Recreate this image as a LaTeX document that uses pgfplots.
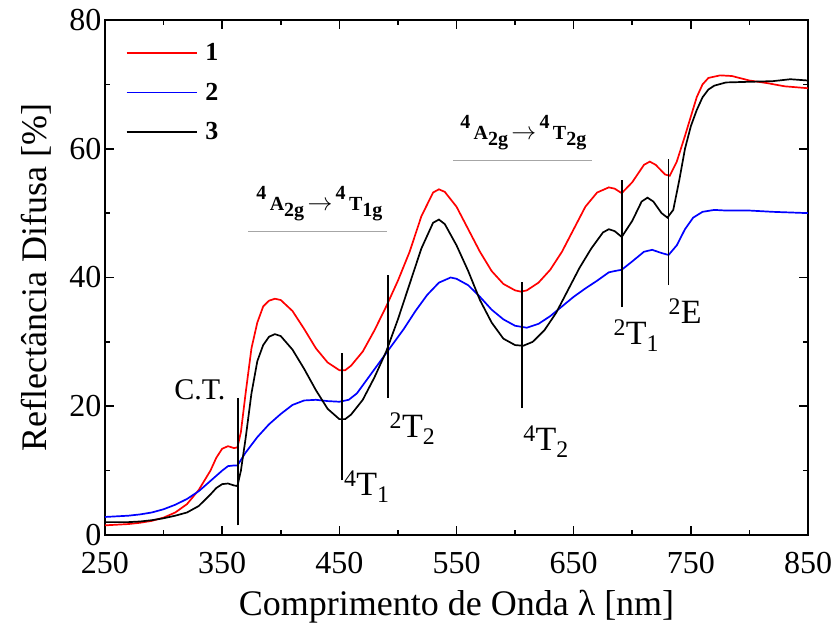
\documentclass[border=0pt]{standalone}
\usepackage{fontspec}
\setmainfont{Liberation Serif}
\usepackage{pgfplots}
\pgfplotsset{compat=1.18}

% annotation helpers
\newcommand{\lev}[3]{\textsuperscript{#1}#2\textsubscript{#3}}
\newcommand{\trans}[1]{\bfseries\fontsize{20}{20}\selectfont
  \raisebox{1.2ex}{4}\,A\raisebox{-0.7ex}{2g}\,{\fontsize{30}{30}\selectfont$\rightarrow$}\,\raisebox{1.2ex}{4}\,T\raisebox{-0.7ex}{#1}}

\begin{document}
\begin{tikzpicture}
\begin{axis}[
    scale only axis,
    width=703pt, height=515pt,
    xmin=250, xmax=850, ymin=0, ymax=80,
    xtick={250,350,...,850}, minor xtick={300,400,...,800},
    ytick={0,20,...,80}, minor ytick={10,30,50,70},
    major tick length=9pt, minor tick length=5pt,
    tick style={line width=1.6pt, black},
    axis line style={line width=2pt},
    /pgf/number format/assume math mode=true,
    ticklabel style={font=\fontsize{32}{32}\selectfont},
    xticklabel style={yshift=-14pt},
    xlabel={Comprimento de Onda λ [nm]},
    ylabel={Reflectância Difusa [\%]},
    label style={font=\fontsize{36}{36}\selectfont},
    xlabel style={at={(axis description cs:0.5,-0.1)}, anchor=north},
    ylabel style={at={(axis description cs:-0.072,0.5)}, anchor=south},
    legend cell align=left,
    legend style={at={(0.025,0.962)}, anchor=north west, draw=none, fill=none,
        font=\fontsize{26}{26}\selectfont\bfseries, row sep=16.6pt},
    legend image code/.code={\draw (0pt,0pt) -- (70pt,0pt);},
]
% amostra 1
\addplot[red, line width=1.7pt] coordinates {
 (250,1.5) (260,1.6) (270,1.7) (280,1.9) (290,2.2) (300,2.7) (310,3.5) (320,4.8)
 (330,7.0) (340,10.0) (345,12.0) (350,13.4) (355,13.8) (360,13.5) (363,13.6)
 (366,16) (370,22) (375,29) (380,33) (385,35.5) (390,36.4) (395,36.7) (400,36.5)
 (410,34.8) (420,32.0) (430,29.0) (440,26.8) (450,25.6) (455,25.6) (460,26.3)
 (470,28.5) (480,31.8) (490,35.5) (500,39.5) (510,44) (520,49.5) (530,53.2)
 (535,53.7) (540,53.3) (550,51) (560,47.5) (570,44) (580,41) (590,39) (600,38)
 (605,37.8) (610,38) (620,39.2) (630,41.2) (640,44) (650,47.5) (660,51)
 (670,53.2) (680,54) (685,53.8) (691,53.1) (700,54.8) (710,57.5) (715,58)
 (720,57.5) (728,56) (732,55.8) (738,58) (745,62) (750,65) (755,68) (760,70)
 (765,71) (775,71.4) (785,71.3) (800,70.6) (815,70.2) (830,69.7) (850,69.4)
};
\addlegendentry{\hspace{6pt}1}
% amostra 2
\addplot[blue, line width=1.7pt] coordinates {
 (250,2.8) (260,2.9) (270,3.0) (280,3.2) (290,3.5) (300,4.0) (310,4.7) (320,5.6)
 (330,6.8) (340,8.4) (350,10.0) (355,10.7) (360,10.8) (363,10.8) (370,12.8)
 (380,15.2) (390,17.2) (400,18.8) (410,20.2) (420,20.9) (430,21.0) (440,20.8)
 (450,20.7) (458,21.0) (465,22) (475,24.5) (485,27) (495,29.5) (505,32)
 (515,34.8) (525,37.3) (535,39.2) (545,40) (550,39.8) (560,38.8) (570,37)
 (580,35) (590,33.5) (600,32.5) (610,32.2) (620,32.8) (630,34) (640,35.5)
 (650,37) (660,38.3) (670,39.5) (680,40.8) (685,41) (691,41.2) (700,42.5)
 (710,44) (717,44.3) (725,43.8) (731,43.5) (738,45) (745,47.5) (752,49.3)
 (760,50.2) (770,50.5) (780,50.4) (800,50.4) (820,50.2) (850,50.0)
};
\addlegendentry{\hspace{6pt}2}
% amostra 3
\addplot[black, line width=1.7pt] coordinates {
 (250,2.0) (260,2.0) (270,2.0) (280,2.1) (290,2.3) (300,2.6) (310,3.0) (320,3.5)
 (330,4.5) (340,6.3) (345,7.3) (350,7.9) (355,8.0) (360,7.7) (363,7.6) (366,10)
 (370,15) (375,22) (380,27) (385,29.5) (390,30.8) (395,31.2) (400,30.9)
 (410,28.8) (420,25.8) (430,22.5) (440,19.6) (450,18.0) (455,18.0) (460,18.7)
 (470,21.0) (480,24.5) (490,28.5) (500,33.5) (510,39) (520,44.5) (530,48.5)
 (535,49) (540,48.3) (550,45) (560,41) (570,36.5) (580,33) (590,30.5) (600,29.5)
 (607,29.4) (615,30) (625,31.8) (635,34.5) (645,38) (655,41.5) (665,44.5)
 (675,47) (680,47.5) (685,47.2) (691,46.3) (700,48.8) (708,51.8) (713,52.4)
 (718,51.8) (725,50) (730,49.3) (735,50.5) (740,55) (745,60) (750,63.5)
 (755,66) (760,68) (765,69.2) (770,69.8) (780,70.3) (800,70.4) (820,70.5)
 (835,70.8) (850,70.6)
};
\addlegendentry{\hspace{6pt}3}

% bandas
\draw[line width=1.7pt] (axis cs:363.4,1.5) -- (axis cs:363.4,21.3);
\draw[line width=1.7pt] (axis cs:452.4,8.5) -- (axis cs:452.4,28.3);
\draw[line width=1.7pt] (axis cs:491.5,21.3) -- (axis cs:491.5,40.4);
\draw[line width=1.7pt] (axis cs:606,19.7) -- (axis cs:606,39.3);
\draw[line width=1.7pt] (axis cs:691,35.4) -- (axis cs:691,55.1);
\draw[line width=1.7pt] (axis cs:731,38.8) -- (axis cs:731,58.4);
\draw[gray!70, line width=1pt] (axis cs:372,47.2) -- (axis cs:491,47.2);
\draw[gray!70, line width=1pt] (axis cs:547,58.1) -- (axis cs:666,58.1);

\node[font=\fontsize{30}{30}\selectfont] at (axis cs:331,22.5) {C.T.};
\node[font=\fontsize{34}{34}\selectfont, anchor=west] at (axis cs:451,7.5) {\lev{4}{T}{1}};
\node[font=\fontsize{34}{34}\selectfont, anchor=west] at (axis cs:490,16.5) {\lev{2}{T}{2}};
\node[font=\fontsize{34}{34}\selectfont, anchor=west] at (axis cs:604,14.5) {\lev{4}{T}{2}};
\node[font=\fontsize{34}{34}\selectfont, anchor=west] at (axis cs:681,31) {\lev{2}{T}{1}};
\node[font=\fontsize{34}{34}\selectfont, anchor=west] at (axis cs:728,34.5) {\lev{2}{E}{}};
\node at (axis cs:433,51.5) {\trans{1g}};
\node at (axis cs:607,62.5) {\trans{2g}};
\end{axis}
\pgfresetboundingbox
\path[use as bounding box] ([xshift=-105pt,yshift=-89pt]current axis.south west)
  rectangle ([xshift=25pt,yshift=20pt]current axis.north east);
\end{tikzpicture}
\end{document}
